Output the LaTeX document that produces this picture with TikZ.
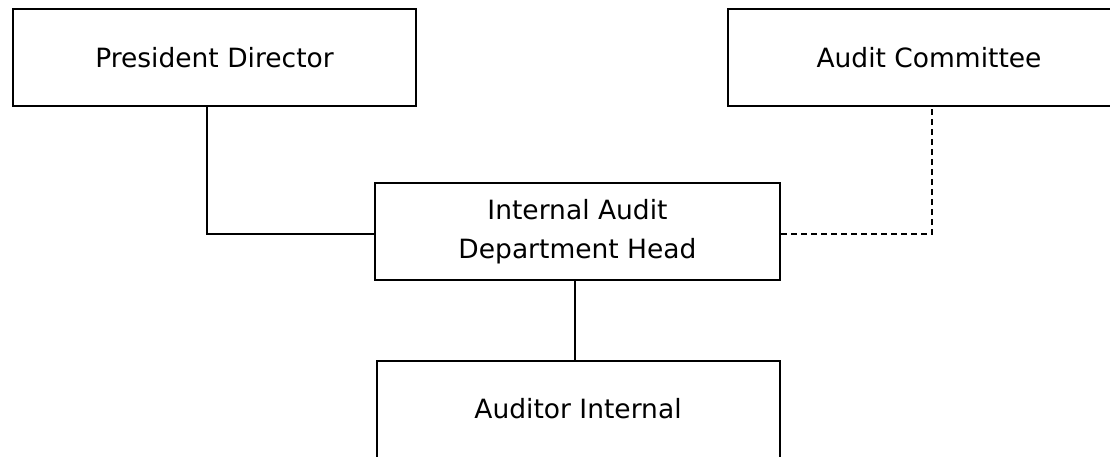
\documentclass[tikz,border=0pt]{standalone}
\usepackage{fontspec}
\setmainfont{DejaVu Sans}

\tikzset{
	orgbox/.style={draw, line width=2pt, minimum width=403pt, minimum height=97pt, inner sep=0pt, align=center, font=\fontsize{26.5}{39}\selectfont},
	link/.style={line width=1.5pt},
	dottedlink/.style={line width=1.5pt, dash pattern=on 6pt off 4pt}
}

\begin{document}
\begin{tikzpicture}[x=1pt,y=1pt,yscale=-1,xscale=1]
	\useasboundingbox (0,0) rectangle (1110,456);
	\clip (0,0) rectangle (1110,456);
	\node [orgbox] (president) at (214.5,57.5) {President Director};
	\node [orgbox] (committee) at (929,57.5) {Audit Committee};
	\node [orgbox, minimum width=405pt] (head) at (577.5,231.5) {Internal Audit\\Department Head};
	\node [orgbox] (auditor) at (578,409) {Auditor Internal};
	\coordinate (pbend) at (207,234);
	\coordinate (cbend) at (932,234);
	\coordinate (abend) at (575,320);
	\draw [link] (president.south -| pbend) -- (pbend) -- (head.west |- pbend);
	\draw [dottedlink] (head.east |- cbend) -- (cbend) -- (committee.south -| cbend);
	\draw [link] (head.south -| abend) -- (auditor.north -| abend);
\end{tikzpicture}
\end{document}
